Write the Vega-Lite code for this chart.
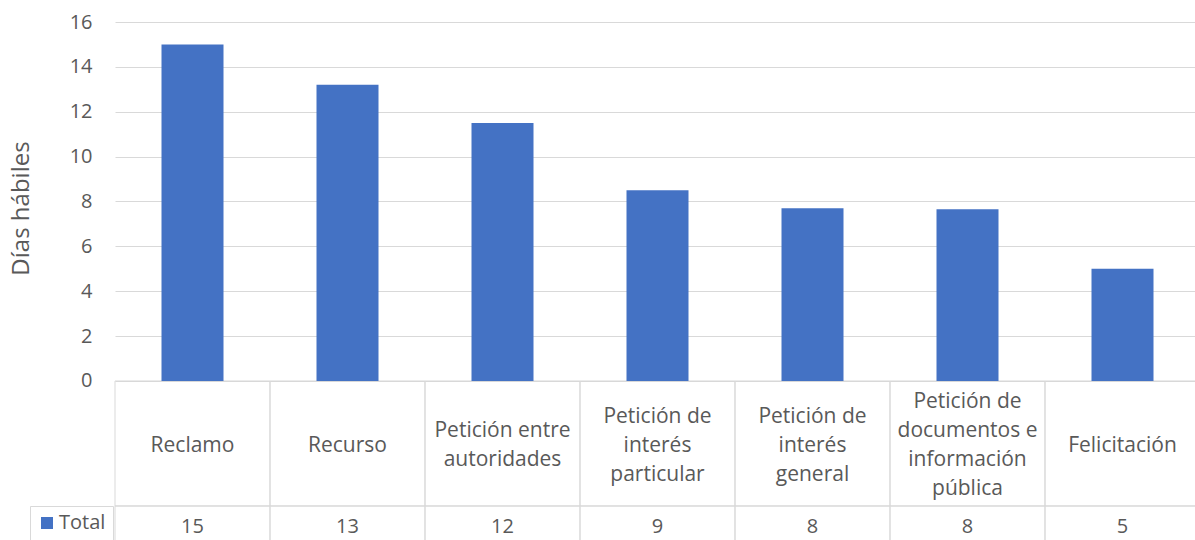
{
  "$schema": "https://vega.github.io/schema/vega-lite/v6.json",
  "width": 1080,
  "height": 518,
  "autosize": {"type": "none"},
  "padding": {"left": 115, "top": 22, "right": 0, "bottom": 0},
  "background": "white",
  "config": {"view": {"stroke": null}, "font": "Open Sans"},
  "data": {
    "values": [
      {"cat": "Reclamo", "label": "Reclamo", "value": 15.0},
      {"cat": "Recurso", "label": "Recurso", "value": 13.2},
      {"cat": "Petición entre autoridades", "label": "Petición entre\nautoridades", "value": 11.5},
      {"cat": "Petición de interés particular", "label": "Petición de\ninterés\nparticular", "value": 8.5},
      {"cat": "Petición de interés general", "label": "Petición de\ninterés\ngeneral", "value": 7.7},
      {"cat": "Petición de documentos e información pública", "label": "Petición de\ndocumentos e\ninformación\npública", "value": 7.65},
      {"cat": "Felicitación", "label": "Felicitación", "value": 5.0}
    ]
  },
  "resolve": {"scale": {"x": "independent"}},
  "layer": [
    {
      "mark": {"type": "rect", "fill": "transparent", "stroke": "#d9d9d9", "strokeWidth": 1},
      "encoding": {
        "x": {"field": "cat", "type": "nominal", "sort": null, "scale": {"paddingInner": 0, "paddingOuter": 0, "range": [0, 1085]}, "axis": null},
        "y": {
          "datum": 0, "type": "quantitative",
          "scale": {"domain": [-7.0864, 16], "nice": false, "zero": false},
          "axis": {
            "values": [0, 2, 4, 6, 8, 10, 12, 14, 16],
            "grid": true, "gridColor": "#d9d9d9", "gridWidth": 1,
            "domain": false, "ticks": false,
            "labelFontSize": 20, "labelColor": "#595959", "labelFont": "Open Sans", "labelPadding": 23,
            "title": "Días hábiles", "titleFontSize": 24, "titleColor": "#595959", "titleFont": "Open Sans",
            "titleFontWeight": "normal", "titlePadding": 36, "titleY": 186
          }
        },
        "y2": {"datum": -5.571}
      }
    },
    {
      "mark": {"type": "rect", "fill": "transparent", "stroke": "#d9d9d9", "strokeWidth": 1},
      "encoding": {
        "x": {"field": "cat", "type": "nominal", "sort": null, "scale": {"paddingInner": 0, "paddingOuter": 0, "range": [0, 1085]}, "axis": null},
        "y": {"datum": -5.571, "type": "quantitative"},
        "y2": {"datum": -7.6}
      }
    },
    {
      "mark": {"type": "bar"},
      "encoding": {
        "x": {"field": "cat", "type": "nominal", "sort": null, "scale": {"paddingInner": 0.6, "paddingOuter": 0.3, "range": [0, 1085]}, "axis": null},
        "y": {"field": "value", "type": "quantitative"},
        "y2": {"datum": 0},
        "color": {
          "datum": "Total", "type": "nominal",
          "scale": {"range": ["#4472C4"]},
          "legend": {
            "orient": "none", "legendX": -85, "legendY": 484, "title": null,
            "symbolType": "square", "symbolSize": 144, "symbolStrokeWidth": 0,
            "labelFontSize": 20, "labelColor": "#595959", "labelFont": "Open Sans", "labelOffset": 2,
            "strokeColor": "#d9d9d9", "fillColor": "white", "padding": 7
          }
        }
      }
    },
    {
      "transform": [{"calculate": "length(split(datum.label, '\\n'))", "as": "nl"}],
      "mark": {"type": "text", "lineBreak": "\n", "lineHeight": 29, "fontSize": 21, "color": "#595959", "font": "Open Sans", "baseline": "middle", "align": "center"},
      "encoding": {
        "x": {"field": "cat", "type": "nominal", "sort": null, "scale": {"paddingInner": 0, "paddingOuter": 0, "range": [0, 1085]}, "axis": null},
        "y": {"datum": -2.875, "type": "quantitative"},
        "yOffset": {"field": "nl", "type": "quantitative", "scale": {"domain": [1, 4], "range": [0, -43.5]}},
        "text": {"field": "label", "type": "nominal"}
      }
    },
    {
      "mark": {"type": "text", "fontSize": 20, "color": "#595959", "font": "Open Sans", "baseline": "middle", "align": "center"},
      "encoding": {
        "x": {"field": "cat", "type": "nominal", "sort": null, "scale": {"paddingInner": 0, "paddingOuter": 0, "range": [0, 1085]}, "axis": null},
        "y": {"datum": -6.5, "type": "quantitative"},
        "text": {"field": "value", "type": "quantitative", "format": ".0f"}
      }
    }
  ]
}
